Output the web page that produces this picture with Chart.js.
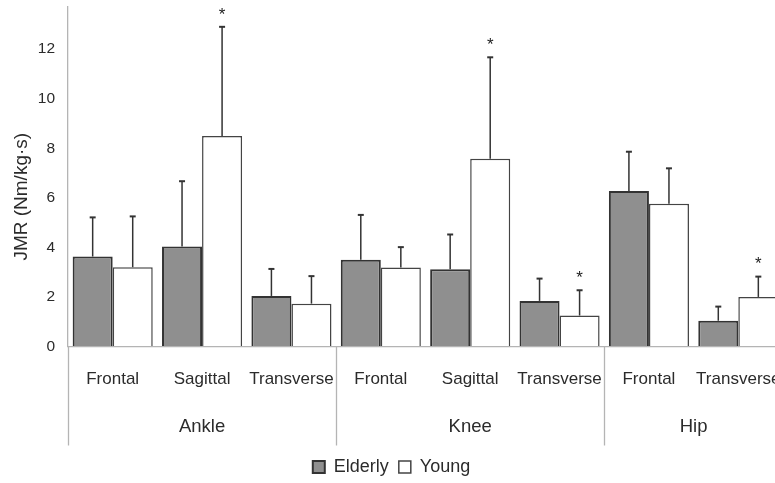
<!DOCTYPE html>
<html>
<head>
<meta charset="utf-8">
<script src="https://cdn.jsdelivr.net/npm/chart.js@4/dist/chart.umd.min.js"></script>
<style>
  html, body { margin: 0; padding: 0; background: #fff; overflow: hidden; }
  #wrap { width: 786px; height: 483px; }
</style>
</head>
<body>
<div id="wrap"><canvas id="c" width="786" height="483"></canvas></div>
<script>
// Joint moment rate (JMR) by joint and plane, elderly vs young (mean + SD)
const planes = ['Frontal', 'Sagittal', 'Transverse', 'Frontal', 'Sagittal', 'Transverse', 'Frontal', 'Transverse'];
const joints = ['Ankle', 'Knee', 'Hip'];
const jointPlaneCounts = [3, 3, 2];

const elderlyMean = [3.63, 4.04, 2.04, 3.50, 3.12, 1.84, 6.28, 1.04];
const elderlySD   = [1.58, 2.63, 1.09, 1.81, 1.40, 0.90, 1.58, 0.57];
const youngMean   = [3.20, 8.49, 1.73, 3.19, 7.58, 1.25, 5.76, 2.00];
const youngSD     = [2.05, 4.41, 1.11, 0.82, 4.09, 1.02, 1.43, 0.82];
// significant group difference marked with an asterisk above the young bar
const youngSignificant = [false, true, false, false, true, true, false, true];

const yTicks = [0, 2, 4, 6, 8, 10, 12];
const yTitle = 'JMR (Nm/kg\u00B7s)';

const FONT = "'Liberation Sans', Arial, Helvetica, sans-serif";
const TEXT = '#2b2b2b';
const AXIS = '#b4b4b4';

const errorBars = {
  id: 'errorBars',
  afterDatasetsDraw(chart) {
    const ctx = chart.ctx;
    const y = chart.scales.y;
    const sds = [elderlySD, youngSD];
    ctx.save();
    ctx.strokeStyle = '#333';
    chart.data.datasets.forEach((ds, d) => {
      const meta = chart.getDatasetMeta(d);
      meta.data.forEach((bar, i) => {
        const top = y.getPixelForValue(ds.data[i] + sds[d][i]);
        ctx.lineWidth = 1.5;
        ctx.beginPath();
        ctx.moveTo(bar.x, bar.y);
        ctx.lineTo(bar.x, top);
        ctx.stroke();
        ctx.lineWidth = 2;
        ctx.beginPath();
        ctx.moveTo(bar.x - 3, top);
        ctx.lineTo(bar.x + 3, top);
        ctx.stroke();
        if (d === 1 && youngSignificant[i]) {
          ctx.fillStyle = '#222';
          ctx.font = '17px ' + FONT;
          ctx.textAlign = 'center';
          ctx.textBaseline = 'middle';
          ctx.fillText('*', bar.x, top - 12);
        }
      });
    });
    ctx.restore();
  }
};

// joint groups below the plane labels, with separators between groups
const jointAxis = {
  id: 'jointAxis',
  afterDraw(chart) {
    const ctx = chart.ctx;
    const x = chart.scales.x;
    const area = chart.chartArea;
    const half = (x.getPixelForValue(1) - x.getPixelForValue(0)) / 2;
    ctx.save();
    ctx.strokeStyle = AXIS;
    ctx.lineWidth = 1.3;
    ctx.fillStyle = TEXT;
    ctx.font = '18.5px ' + FONT;
    ctx.textAlign = 'center';
    ctx.textBaseline = 'middle';
    let start = 0;
    jointPlaneCounts.forEach((n, g) => {
      const left = x.getPixelForValue(start) - half;
      const right = x.getPixelForValue(start + n - 1) + half;
      ctx.beginPath();
      ctx.moveTo(Math.round(left) + 0.5, area.bottom);
      ctx.lineTo(Math.round(left) + 0.5, area.bottom + 99);
      ctx.stroke();
      ctx.fillText(joints[g], (left + right) / 2, area.bottom + 80);
      start += n;
    });
    // y title, centred a little below the middle of the plot
    ctx.font = '19px ' + FONT;
    ctx.translate(22, (area.top + area.bottom) / 2 + 20);
    ctx.rotate(-Math.PI / 2);
    ctx.fillText(yTitle, 0, 0);
    ctx.restore();
  }
};

// invisible tick marks are used as the gap between axis and labels
const hiddenTicks = (len) => ({
  display: true,
  drawOnChartArea: false,
  drawTicks: true,
  tickLength: len,
  tickColor: 'rgba(0,0,0,0)'
});

new Chart(document.getElementById('c'), {
  type: 'bar',
  data: {
    labels: planes,
    datasets: [
      {
        label: 'Elderly',
        data: elderlyMean,
        backgroundColor: '#8f8f8f',
        borderColor: '#333',
        borderWidth: 2,
        barPercentage: 1.0,
        categoryPercentage: 0.896
      },
      {
        label: 'Young',
        data: youngMean,
        backgroundColor: '#ffffff',
        borderColor: '#444',
        borderWidth: 1.5,
        barPercentage: 1.0,
        categoryPercentage: 0.896
      }
    ]
  },
  options: {
    responsive: false,
    animation: false,
    devicePixelRatio: 1,
    layout: { autoPadding: false, padding: { top: 7, right: 3, left: 0, bottom: -3 } },
    plugins: {
      tooltip: { enabled: false },
      legend: {
        position: 'bottom',
        labels: {
          font: { size: 18, family: FONT },
          color: TEXT,
          boxWidth: 12,
          boxHeight: 12,
          padding: 10
        }
      }
    },
    scales: {
      x: {
        grid: hiddenTicks(22.5),
        border: { display: true, color: AXIS, width: 1.3 },
        ticks: {
          font: { size: 17, family: FONT },
          color: TEXT,
          padding: 0,
          maxRotation: 0,
          autoSkip: false
        },
        afterFit(scale) { scale.height = 101.5; }
      },
      y: {
        min: 0,
        max: 13.7,
        grid: hiddenTicks(13),
        border: { display: true, color: AXIS, width: 1.3 },
        ticks: {
          stepSize: 2,
          font: { size: 15.5, family: FONT, lineHeight: 0.8 },
          color: TEXT,
          padding: 0
        },
        afterBuildTicks(scale) {
          scale.ticks = yTicks.map(v => ({ value: v }));
        },
        afterFit(scale) { scale.width = 68; }
      }
    }
  },
  plugins: [errorBars, jointAxis]
});
</script>
</body>
</html>
